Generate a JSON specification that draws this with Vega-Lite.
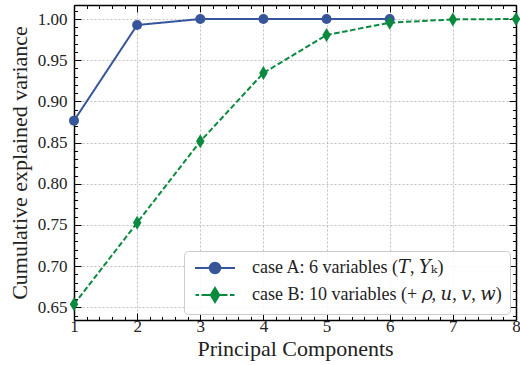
{
  "$schema": "https://vega.github.io/schema/vega-lite/v6.json",
  "width": 442,
  "height": 315,
  "autosize": {"type": "none"},
  "padding": {"left": 74, "top": 5, "right": 4, "bottom": 45},
  "background": "white",
  "config": {
    "view": {"stroke": null},
    "font": "Liberation Serif, DejaVu Serif, serif",
    "axis": {
      "labelFont": "Liberation Serif, DejaVu Serif, serif",
      "titleFont": "Liberation Serif, DejaVu Serif, serif",
      "labelFontSize": 17,
      "titleFontSize": 22,
      "titleFontWeight": "normal",
      "labelColor": "#222222",
      "titleColor": "#222222",
      "domainColor": "black",
      "domainWidth": 1.5,
      "tickColor": "black",
      "tickWidth": 1
    },
    "legend": {
      "labelFont": "Liberation Serif, DejaVu Serif, serif"
    }
  },
  "data": {
    "values": [
      {"pc": 1, "v": 0.8766, "series": "A"},
      {"pc": 2, "v": 0.9927, "series": "A"},
      {"pc": 3, "v": 1.0, "series": "A"},
      {"pc": 4, "v": 1.0, "series": "A"},
      {"pc": 5, "v": 1.0, "series": "A"},
      {"pc": 6, "v": 1.0, "series": "A"},
      {"pc": 1, "v": 0.6536, "series": "B"},
      {"pc": 2, "v": 0.7527, "series": "B"},
      {"pc": 3, "v": 0.8515, "series": "B"},
      {"pc": 4, "v": 0.9345, "series": "B"},
      {"pc": 5, "v": 0.9806, "series": "B"},
      {"pc": 6, "v": 0.9955, "series": "B"},
      {"pc": 7, "v": 0.9995, "series": "B"},
      {"pc": 8, "v": 1.0, "series": "B"}
    ]
  },
  "layer": [
    {
      "mark": {"type": "line", "strokeWidth": 2, "clip": false},
      "encoding": {
        "x": {
          "field": "pc", "type": "quantitative",
          "scale": {"domain": [1, 8], "nice": false, "zero": false},
          "axis": {
            "orient": "bottom",
            "title": "Principal Components",
            "titlePadding": 4,
            "values": [1,1.2,1.4,1.6,1.8,2,2.2,2.4,2.6,2.8,3,3.2,3.4,3.6,3.8,4,4.2,4.4,4.6,4.8,5,5.2,5.4,5.6,5.8,6,6.2,6.4,6.6,6.8,7,7.2,7.4,7.6,7.8,8],
            "labelExpr": "abs(datum.value - round(datum.value)) < 0.001 ? format(datum.value, 'd') : ''",
            "tickSize": {"condition": {"test": "abs(datum.value - round(datum.value)) < 0.001", "value": -7}, "value": -3.5},
            "grid": true,
            "gridColor": "#b0b0b0",
            "gridDash": [2, 2],
            "gridWidth": 0.8,
            "gridOpacity": {"condition": {"test": "abs(datum.value - round(datum.value)) < 0.001", "value": 1}, "value": 0},
            "labelPadding": 5,
            "labelFlush": false
          }
        },
        "y": {
          "field": "v", "type": "quantitative",
          "scale": {"domain": [0.6346, 1.017], "nice": false, "zero": false},
          "axis": {
            "orient": "left",
            "title": "Cumulative explained variance",
            "titlePadding": 6,
            "values": [0.64,0.65,0.66,0.67,0.68,0.69,0.7,0.71,0.72,0.73,0.74,0.75,0.76,0.77,0.78,0.79,0.8,0.81,0.82,0.83,0.84,0.85,0.86,0.87,0.88,0.89,0.9,0.91,0.92,0.93,0.94,0.95,0.96,0.97,0.98,0.99,1.0,1.01],
            "labelExpr": "abs(datum.value*20 - round(datum.value*20)) < 0.001 ? format(datum.value, '.2f') : ''",
            "tickSize": {"condition": {"test": "abs(datum.value*20 - round(datum.value*20)) < 0.001", "value": -7}, "value": -3.5},
            "grid": true,
            "gridColor": "#b0b0b0",
            "gridDash": [2, 2],
            "gridWidth": 0.8,
            "gridOpacity": {"condition": {"test": "abs(datum.value*20 - round(datum.value*20)) < 0.001", "value": 1}, "value": 0},
            "labelPadding": 14,
            "labelFlush": false
          }
        },
        "color": {
          "field": "series", "type": "nominal",
          "scale": {"range": ["#37559a", "#0a8a3e"]},
          "legend": null
        },
        "strokeDash": {
          "field": "series", "type": "nominal",
          "scale": {"range": [[1, 0], [5.5, 2.6]]},
          "legend": null
        }
      }
    },
    {
      "transform": [{"filter": "datum.series == 'A'"}],
      "mark": {"type": "point", "shape": "circle", "filled": true, "opacity": 1, "size": 100, "clip": false},
      "encoding": {
        "x": {
          "field": "pc", "type": "quantitative",
          "axis": {
            "orient": "top",
            "title": null,
            "labels": false,
            "grid": false,
            "values": [1,1.2,1.4,1.6,1.8,2,2.2,2.4,2.6,2.8,3,3.2,3.4,3.6,3.8,4,4.2,4.4,4.6,4.8,5,5.2,5.4,5.6,5.8,6,6.2,6.4,6.6,6.8,7,7.2,7.4,7.6,7.8,8],
            "tickSize": {"condition": {"test": "abs(datum.value - round(datum.value)) < 0.001", "value": -7}, "value": -3.5}
          }
        },
        "y": {
          "field": "v", "type": "quantitative",
          "axis": {
            "orient": "right",
            "title": null,
            "labels": false,
            "grid": false,
            "values": [0.64,0.65,0.66,0.67,0.68,0.69,0.7,0.71,0.72,0.73,0.74,0.75,0.76,0.77,0.78,0.79,0.8,0.81,0.82,0.83,0.84,0.85,0.86,0.87,0.88,0.89,0.9,0.91,0.92,0.93,0.94,0.95,0.96,0.97,0.98,0.99,1.0,1.01],
            "tickSize": {"condition": {"test": "abs(datum.value*20 - round(datum.value*20)) < 0.001", "value": -7}, "value": -3.5}
          }
        },
        "color": {
          "field": "series", "type": "nominal",
          "legend": null
        }
      }
    },
    {
      "transform": [{"filter": "datum.series == 'B'"}],
      "mark": {"type": "point", "shape": "M0,-1.4L0.85,0L0,1.4L-0.85,0Z", "filled": true, "opacity": 1, "size": 100, "clip": false},
      "encoding": {
        "x": {"field": "pc", "type": "quantitative", "axis": null},
        "y": {"field": "v", "type": "quantitative", "axis": null},
        "color": {
          "field": "series", "type": "nominal",
          "legend": null
        }
      }
    },
    {
      "transform": [{"filter": "false"}],
      "mark": {"type": "point", "filled": true, "opacity": 1, "size": 100, "strokeWidth": 2},
      "encoding": {
        "x": {"field": "pc", "type": "quantitative", "axis": null},
        "y": {"field": "v", "type": "quantitative", "axis": null},
        "fill": {
          "field": "series", "type": "nominal",
          "scale": {"domain": ["A", "B"], "range": ["#37559a", "#0a8a3e"]},
          "legend": {
            "orient": "bottom-right",
            "offset": 6,
            "title": null,
            "fillColor": "rgba(255,255,255,0.85)",
            "strokeColor": "#cccccc",
            "cornerRadius": 4,
            "padding": 8,
            "labelFont": "Liberation Serif, DejaVu Serif, serif",
            "labelFontSize": 18,
            "labelColor": "#222222",
            "labelLimit": 400,
            "symbolSize": 100,
            "symbolOffset": 14,
            "labelOffset": 28,
            "rowPadding": 6,
            "symbolStrokeWidth": 2,
            "symbolOpacity": 1,
            "labelExpr": "datum.value == 'A' ? 'case A: 6 variables (𝑇, 𝑌ₖ)' : 'case B: 10 variables (+ 𝜌, 𝑢, 𝑣, 𝑤)'"
          }
        },
        "stroke": {
          "field": "series", "type": "nominal",
          "scale": {"domain": ["A", "B"], "range": ["#37559a", "#0a8a3e"]},
          "legend": {
            "orient": "bottom-right",
            "title": null,
            "labelExpr": "datum.value == 'A' ? 'case A: 6 variables (𝑇, 𝑌ₖ)' : 'case B: 10 variables (+ 𝜌, 𝑢, 𝑣, 𝑤)'"
          }
        },
        "shape": {
          "field": "series", "type": "nominal",
          "scale": {"domain": ["A", "B"], "range": ["M-4,0H4M-1.05,0A1.05,1.05 0 1,1 1.05,0A1.05,1.05 0 1,1 -1.05,0Z", "M-3.9,0H-3.2M-2.7,0H-0.8M0.8,0H2.5M3,0H3.9M0,-1.4L0.85,0L0,1.4L-0.85,0Z"]},
          "legend": {
            "orient": "bottom-right",
            "title": null,
            "labelExpr": "datum.value == 'A' ? 'case A: 6 variables (𝑇, 𝑌ₖ)' : 'case B: 10 variables (+ 𝜌, 𝑢, 𝑣, 𝑤)'"
          }
        }
      }
    }
  ]
}
